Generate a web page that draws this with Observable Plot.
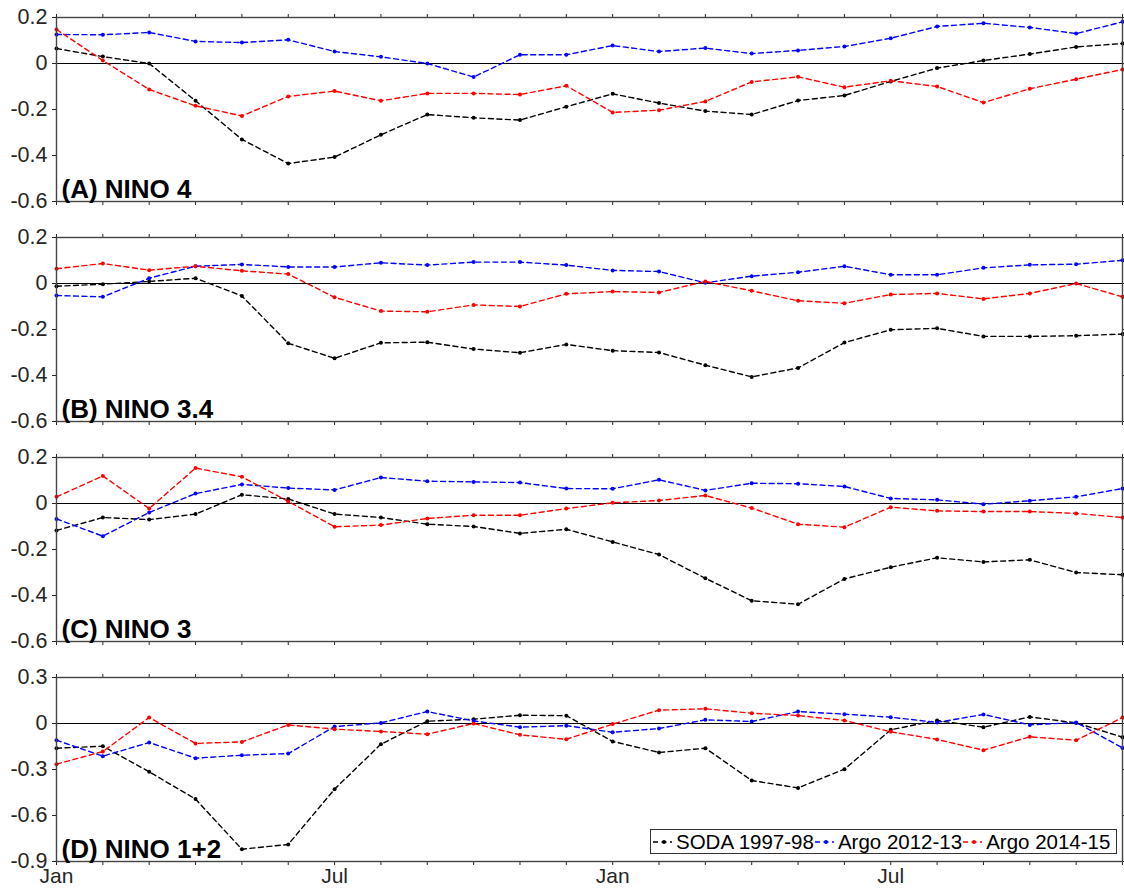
<!DOCTYPE html>
<html><head><meta charset="utf-8">
<script src="https://cdn.jsdelivr.net/npm/d3@7"></script>
<script src="https://cdn.jsdelivr.net/npm/@observablehq/plot@0.6"></script>
<style>
body{margin:0;background:#fff;}
#chart{position:relative;width:1124px;height:890px;font-family:"Liberation Sans",Arial,Helvetica,sans-serif;}
#chart svg{display:block;}
.legend{position:absolute;left:650px;top:829px;width:467px;height:25px;border:1.2px solid #333;background:#fff;box-sizing:border-box;display:flex;align-items:center;font-size:20.5px;color:#000;white-space:nowrap;font-family:"Liberation Sans",Arial,sans-serif;}
.legend .item{display:flex;align-items:center;}
.legend .item:first-child{margin-left:1px;}
.legend svg{display:inline-block;margin-right:3px;}
</style></head><body><div id="chart"></div>
<script>
// month index 0..23 (Jan of year 1 .. Dec of year 2)
const months = ["Jan","Feb","Mar","Apr","May","Jun","Jul","Aug","Sep","Oct","Nov","Dec",
                "Jan","Feb","Mar","Apr","May","Jun","Jul","Aug","Sep","Oct","Nov","Dec"];
const xTickPos = [0, 6, 12, 18];
const xTickLabels = ["Jan", "Jul", "Jan", "Jul"];

const seriesNames = ["SODA 1997-98", "Argo 2012-13", "Argo 2014-15"];
const seriesColors = ["#000000", "#0000ff", "#ff0000"];

const panelLabels = ["(A) NINO 4", "(B) NINO 3.4", "(C) NINO 3", "(D) NINO 1+2"];
const yTicksABC = [0.2, 0, -0.2, -0.4, -0.6];
const yTicksD = [0.3, 0, -0.3, -0.6, -0.9];

// (A) NINO 4
const nino4_soda = [0.065, 0.03, 0.0, -0.162, -0.33, -0.435, -0.407, -0.31, -0.222, -0.236, -0.246, -0.188, -0.132, -0.172, -0.207, -0.222, -0.161, -0.139, -0.078, -0.02, 0.013, 0.041, 0.072, 0.087];
const nino4_argo1213 = [0.126, 0.125, 0.135, 0.096, 0.091, 0.103, 0.052, 0.029, 0.0, -0.059, 0.038, 0.038, 0.078, 0.052, 0.067, 0.043, 0.057, 0.074, 0.11, 0.161, 0.175, 0.157, 0.13, 0.181];
const nino4_argo1415 = [0.148, 0.013, -0.113, -0.184, -0.228, -0.143, -0.12, -0.162, -0.13, -0.13, -0.135, -0.097, -0.213, -0.203, -0.165, -0.08, -0.058, -0.103, -0.075, -0.1, -0.17, -0.11, -0.068, -0.026];

// (B) NINO 3.4
const nino34_soda = [-0.012, -0.003, 0.009, 0.023, -0.054, -0.26, -0.325, -0.258, -0.255, -0.285, -0.301, -0.265, -0.292, -0.3, -0.355, -0.406, -0.367, -0.257, -0.201, -0.195, -0.23, -0.23, -0.227, -0.22];
const nino34_argo1213 = [-0.052, -0.058, 0.023, 0.075, 0.083, 0.072, 0.072, 0.09, 0.08, 0.093, 0.093, 0.08, 0.057, 0.052, 0.003, 0.032, 0.049, 0.075, 0.038, 0.038, 0.068, 0.081, 0.084, 0.101];
const nino34_argo1415 = [0.064, 0.087, 0.058, 0.075, 0.055, 0.041, -0.06, -0.12, -0.123, -0.093, -0.1, -0.045, -0.035, -0.039, 0.009, -0.032, -0.075, -0.086, -0.048, -0.043, -0.067, -0.043, 0.0, -0.058];

// (C) NINO 3
const nino3_soda = [-0.117, -0.061, -0.07, -0.046, 0.038, 0.02, -0.046, -0.061, -0.09, -0.1, -0.13, -0.112, -0.167, -0.222, -0.325, -0.423, -0.438, -0.328, -0.277, -0.236, -0.254, -0.245, -0.3, -0.31];
const nino3_argo1213 = [-0.067, -0.142, -0.039, 0.043, 0.083, 0.067, 0.059, 0.113, 0.097, 0.094, 0.091, 0.065, 0.064, 0.103, 0.057, 0.088, 0.086, 0.074, 0.022, 0.016, -0.003, 0.012, 0.029, 0.065];
const nino3_argo1415 = [0.029, 0.12, -0.022, 0.154, 0.116, 0.009, -0.101, -0.094, -0.065, -0.051, -0.051, -0.022, 0.003, 0.013, 0.035, -0.02, -0.09, -0.103, -0.016, -0.032, -0.035, -0.035, -0.043, -0.061];

// (D) NINO 1+2
const nino12_soda = [-0.161, -0.148, -0.315, -0.493, -0.82, -0.789, -0.428, -0.135, 0.015, 0.028, 0.054, 0.051, -0.117, -0.189, -0.161, -0.372, -0.42, -0.298, -0.041, 0.02, -0.024, 0.043, 0.004, -0.089];
const nino12_argo1213 = [-0.109, -0.213, -0.124, -0.226, -0.207, -0.196, -0.02, 0.004, 0.078, 0.017, -0.024, -0.014, -0.057, -0.033, 0.024, 0.013, 0.078, 0.061, 0.041, 0.007, 0.059, -0.009, 0.007, -0.159];
const nino12_argo1415 = [-0.265, -0.183, 0.039, -0.13, -0.12, -0.009, -0.037, -0.052, -0.07, 0.0, -0.074, -0.103, -0.004, 0.087, 0.096, 0.067, 0.052, 0.02, -0.054, -0.104, -0.174, -0.087, -0.109, 0.039];

const panels = [
  {label: panelLabels[0], domain: [-0.6, 0.2], ticks: yTicksABC, values: [nino4_soda, nino4_argo1213, nino4_argo1415]},
  {label: panelLabels[1], domain: [-0.6, 0.2], ticks: yTicksABC, values: [nino34_soda, nino34_argo1213, nino34_argo1415]},
  {label: panelLabels[2], domain: [-0.6, 0.2], ticks: yTicksABC, values: [nino3_soda, nino3_argo1213, nino3_argo1415]},
  {label: panelLabels[3], domain: [-0.9, 0.3], ticks: yTicksD, values: [nino12_soda, nino12_argo1213, nino12_argo1415]}
];

const FONT = '"Liberation Sans", Arial, Helvetica, sans-serif';
const monthIdx = months.map((m, i) => i);
const fmtY = d => (d === 0 ? "0" : String(d));
const fmtX = i => { const k = xTickPos.indexOf(i); return k >= 0 ? xTickLabels[k] : ""; };

function panel(p, isLast) {
  const data = [];
  p.values.forEach((arr, s) => arr.forEach((v, i) => data.push({x: i, month: months[i], y: v, series: seriesNames[s]})));
  return Plot.plot({
    width: 1124,
    height: isLast ? 230 : 220,
    marginLeft: 56, marginRight: 2, marginTop: 17, marginBottom: isLast ? 29 : 19,
    style: {fontFamily: FONT, fontSize: "21.5px", color: "#262626", background: "white", overflow: "visible"},
    x: {domain: [0, months.length - 1], axis: null},
    y: {domain: p.domain, axis: null},
    color: {domain: seriesNames, range: seriesColors},
    marks: [
      Plot.ruleY([0], {stroke: "#000", strokeWidth: 1.1}),
      Plot.line(data, {x: "x", y: "y", z: "series", stroke: "series", strokeWidth: 1.4, strokeDasharray: "5,3.5"}),
      Plot.dot(data, {x: "x", y: "y", fill: "series", r: 2}),
      Plot.axisX({ticks: monthIdx, tickSize: 4, tickPadding: 3, tickFormat: isLast ? fmtX : () => "", label: null, fontSize: 21}),
      Plot.axisX({anchor: "top", ticks: monthIdx, tickSize: 4, tickFormat: () => "", label: null}),
      Plot.axisY({ticks: p.ticks, tickSize: 4, tickPadding: 5, tickFormat: fmtY, label: null, fontSize: 21.5}),
      Plot.axisY({anchor: "right", ticks: p.ticks, tickSize: 3, tickFormat: () => "", label: null}),
      Plot.frame({stroke: "#444", strokeWidth: 1.4}),
      Plot.text([p.label], {text: d => d, frameAnchor: "bottom-left", dx: 5, dy: -4, fontWeight: "bold", fontSize: 26, fill: "#000", fontFamily: FONT})
    ]
  });
}

const chart = document.getElementById("chart");
panels.forEach((p, i) => chart.appendChild(panel(p, i === panels.length - 1)));

// legend (in bottom panel)
const legend = document.createElement("div");
legend.className = "legend";
seriesNames.forEach((name, i) => {
  const item = document.createElement("span");
  item.className = "item";
  const c = seriesColors[i];
  item.innerHTML = `<svg width="21" height="10"><line x1="1" y1="5" x2="20" y2="5" stroke="${c}" stroke-width="1.4" stroke-dasharray="5,3.5"/><circle cx="12" cy="5" r="2" fill="${c}"/></svg><span>${name}</span>`;
  legend.appendChild(item);
});
chart.appendChild(legend);
</script></body></html>
